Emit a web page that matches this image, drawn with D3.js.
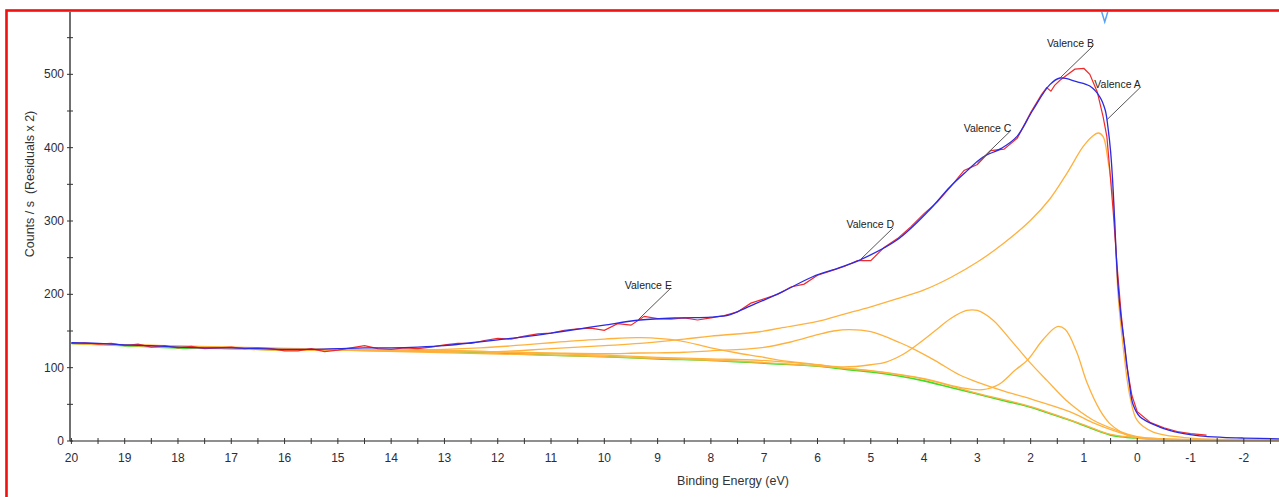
<!DOCTYPE html>
<html><head><meta charset="utf-8">
<script src="https://cdn.jsdelivr.net/npm/d3@7"></script>
<style>
body{margin:0;background:#fff;}
svg{display:block;}
text{font-family:"Liberation Sans",Arial,Helvetica,sans-serif;}
</style>
</head><body>
<svg id="chart" width="1279" height="497"></svg>
<script>
// ---------- tick labels ----------
const xTicks = [20,19,18,17,16,15,14,13,12,11,10,9,8,7,6,5,4,3,2,1,0,-1,-2];
const xMinorTicks = [19.5,18.5,17.5,16.5,15.5,14.5,13.5,12.5,11.5,10.5,9.5,8.5,7.5,6.5,5.5,4.5,3.5,2.5,1.5,0.5,-0.5,-1.5,-2.5];
const yTicks = [0,100,200,300,400,500];
const yMinorTicks = [50,150,250,350,450,550];

// ---------- data: [binding energy eV, counts/s] ----------
const rawData = [
[20,133],[19.75,134],[19.5,132],[19.25,133],[19,130],[18.75,132],[18.5,128],[18.25,130],[18,127],[17.75,129],
[17.5,126],[17.25,127],[17,128],[16.75,126],[16.5,127],[16.25,126],[16,123],[15.75,123],[15.5,126],[15.25,122],
[15,124],[14.75,127],[14.5,130],[14.25,126],[14,125],[13.75,127],[13.5,126],[13.25,128],[13,131],[12.75,133],
[12.5,133],[12.25,137],[12,140],[11.75,139],[11.5,143],[11.25,146],[11,147],[10.75,151],[10.5,153],[10.25,154],
[10,151],[9.75,160],[9.5,158],[9.25,170],[9,167],[8.75,166],[8.5,168],[8.25,165],[8,168],[7.75,171],
[7.5,176],[7.25,188],[7,194],[6.75,200],[6.5,210],[6.25,214],[6,226],[5.75,232],[5.5,238],[5.25,246],
[5,246],[4.75,264],[4.5,276],[4.25,292],[4,310],[3.75,326],[3.5,347],[3.25,369],[3,377],[2.75,396],
[2.5,398],[2.25,413],[2,448],[1.8,472],[1.7,482],[1.62,477],[1.55,485],[1.45,492],[1.3,500],[1.17,507],
[1.0,508],[0.89,500],[0.75,476],[0.64,442],[0.57,415],[0.52,374],[0.45,312],[0.38,240],[0.3,172],[0.2,104],
[0.1,62],[0,40],[-0.25,25],[-0.5,18],[-0.75,13],[-1.0,10],[-1.3,8]
];
const envelopeData = [
[20,134],[19.5,133],[19,131],[18.5,130],[18,128],[17.5,127],[17,127],[16.5,126],[16,125],[15.5,125],
[15,126],[14.5,127],[14,127],[13.5,128],[13,130],[12.5,134],[12,138],[11.5,142],[11,147],[10.46,153],
[10,158],[9.33,165],[8.58,168],[8,169],[7.65,172],[7.33,182],[6.7,202],[6.09,224],[5.6,236],[5.2,247],
[4.51,274],[3.9,315],[3.52,346],[3.2,368],[2.9,387],[2.55,399],[2.26,415],[1.96,451],[1.64,486],[1.45,495],
[1.14,490],[0.89,484],[0.7,469],[0.6,451],[0.55,428],[0.5,395],[0.45,340],[0.4,262],[0.36,212],[0.3,166],
[0.24,132],[0.14,74],[0.08,50],[-0.05,33],[-0.42,19],[-0.8,11],[-1.17,7],[-1.6,5],[-2,4],[-2.66,3]
];
const backgroundData = [
[20,133],[19,130],[18,127],[17,126],[16,124],[15,124],[14,123],[13,122],[12,120],[11,117],
[10,115],[9,112],[8,110],[7,106],[6,102],[5.5,98],[5,94],[4.5,89],[4,82],[3.5,73],
[3,64],[2.5,55],[2,46],[1.5,34],[1.25,28],[1,21],[0.5,8],[0.2,5],[0,4],[-0.5,2],
[-1,1.5],[-2,1],[-2.66,1]
];
const componentA = [
[20,133],[16,124],[14,124],[13,124],[12,122],[11,126],[10,130],[9.33,133],[8.5,139],[8,143],
[7.08,149],[6.7,154],[6,163],[5.5,173],[5,183],[4.5,194],[4,206],[3.5,223],[3,244],[2.5,270],
[2,301],[1.64,330],[1.32,365],[1.02,401],[0.85,415],[0.73,420],[0.64,415],[0.55,383],[0.45,329],[0.36,200],
[0.26,126],[0.14,62],[0,28],[-0.3,12],[-1,4],[-2,2],[-2.66,1.5]
];
const componentB = [
[20,133],[15,124],[10,115],[7,107],[5,96],[4,85],[3.33,73],[2.9,70],[2.6,77],[2.3,96],[2.05,111],
[1.77,138],[1.5,156],[1.35,152],[1.14,122],[0.94,79],[0.7,42],[0.52,24],[0.3,12],[0.08,5],[-0.5,2],
[-2.66,1]
];
const componentC = [
[20,133],[15,125],[12,121],[10,117],[9,114],[8,112],[7.08,110],[6,104],[5.5,101],[5,104],
[4.7,108],[4.4,118],[4.1,133],[3.8,150],[3.5,167],[3.2,178],[3.0,178],[2.71,165],[2.4,140],[2.05,110],
[1.7,83],[1.28,52],[0.84,29],[0.4,15],[0,6],[-0.5,3],[-2.66,1]
];
const componentD = [
[20,133],[15,124],[13,123],[11,120],[10,119],[9.33,120],[8.5,121],[8,123],[7.08,127],[6.5,135],
[6,145],[5.7,150],[5.4,152],[5.0,149],[4.45,134],[4.24,127],[3.8,110],[3.33,90],[2.95,79],[2.5,68],
[2.07,59],[1.27,40],[0.8,24],[0.4,13],[0,5],[-0.5,2],[-2.66,1]
];
const componentE = [
[20,133],[16,124],[14,124],[13,125],[12.33,127],[11.5,131],[11,134],[10.5,137],[10,139],[9.33,141],
[8.6,137],[8,127],[7.5,120],[7.08,115],[6.7,110],[6,104],[5.5,99],[5,95.5],[4,84.5],[3,65],
[2,47],[1,22],[0.5,9],[0,4.5],[-1,1.7],[-2.66,1]
];
const components = [componentA, componentB, componentC, componentD, componentE];

// peak labels with the envelope point they point at
const peakLabels = ["Valence A","Valence B","Valence C","Valence D","Valence E"];
const peakAnchorE = [0.57, 1.45, 3.0, 5.2, 9.37];
const peakAnchorV = [438, 495, 379, 247, 165];
const markerE = 0.61;

// ---------- layout ----------
const svg = d3.select("#chart");
const x = d3.scaleLinear().domain([20, -2.66]).range([71.4, 1279]);
const y = d3.scaleLinear().domain([0, 585]).range([441, 12]);
const axisX0 = 70;

// frame
svg.append("rect").attr("x",6.5).attr("y",10.5).attr("width",1400).attr("height",700)
  .attr("fill","#fff").attr("stroke","#f01010").attr("stroke-width",2.6);

const line = d3.line().x(d=>x(d[0])).y(d=>y(d[1]));
const smooth = d3.line().x(d=>x(d[0])).y(d=>y(d[1])).curve(d3.curveCatmullRom.alpha(0.5));

const plot = svg.append("g");
plot.append("path").datum(backgroundData).attr("d", smooth)
  .attr("fill","none").attr("stroke","#3fdc2a").attr("stroke-width",1.6);
plot.selectAll("path.comp").data(components).join("path").attr("class","comp")
  .attr("d", smooth).attr("fill","none").attr("stroke","#ffb13d").attr("stroke-width",1.3);
plot.append("path").datum(rawData).attr("d", line)
  .attr("fill","none").attr("stroke","#f02a2a").attr("stroke-width",1.2);
plot.append("path").datum(envelopeData).attr("d", smooth)
  .attr("fill","none").attr("stroke","#2a2ae6").attr("stroke-width",1.3);

// labels + leaders
const lab = svg.append("g").selectAll("g").data(peakLabels).join("g");
lab.append("line")
  .attr("x1",(d,i)=>x(peakAnchorE[i])).attr("y1",(d,i)=>y(peakAnchorV[i]))
  .attr("x2",(d,i)=>x(peakAnchorE[i])+33).attr("y2",(d,i)=>y(peakAnchorV[i])-32)
  .attr("stroke","#555").attr("stroke-width",1);
lab.append("text")
  .attr("x",(d,i)=>x(peakAnchorE[i])+34).attr("y",(d,i)=>y(peakAnchorV[i])-31.5)
  .attr("text-anchor","end").attr("font-size",10.5).attr("fill","#222").text(d=>d);

// marker
svg.append("path")
  .attr("d", `M${x(markerE)-3},12 L${x(markerE)},22 L${x(markerE)+3},12`)
  .attr("fill","none").attr("stroke","#5aa2f5").attr("stroke-width",1.5);

// axes
const ax = svg.append("g");
ax.append("line").attr("x1",axisX0).attr("x2",1279).attr("y1",441).attr("y2",441)
  .attr("stroke","#6a6a6a").attr("stroke-width",1.6);
ax.append("line").attr("x1",axisX0).attr("x2",axisX0).attr("y1",12).attr("y2",441)
  .attr("stroke","#333").attr("stroke-width",1.4);

ax.selectAll("line.xt").data(xTicks.concat(xMinorTicks)).join("line").attr("class","xt")
  .attr("x1",d=>x(d)).attr("x2",d=>x(d)).attr("y1",438).attr("y2",444)
  .attr("stroke","#333").attr("stroke-width",1);
ax.selectAll("text.xl").data(xTicks).join("text").attr("class","xl")
  .attr("x",d=>x(d)).attr("y",462).attr("text-anchor","middle")
  .attr("font-size",12).attr("fill","#2c2c3a").text(d=>String(d));

ax.selectAll("line.yt").data(yTicks.concat(yMinorTicks)).join("line").attr("class","yt")
  .attr("x1",axisX0-3).attr("x2",axisX0+3).attr("y1",d=>y(d)).attr("y2",d=>y(d))
  .attr("stroke","#333").attr("stroke-width",1);
ax.selectAll("text.yl").data(yTicks).join("text").attr("class","yl")
  .attr("x",axisX0-6).attr("y",d=>y(d)+4).attr("text-anchor","end")
  .attr("font-size",12).attr("fill","#2c2c3a").text(d=>String(d));

svg.append("text").attr("x",733).attr("y",485).attr("text-anchor","middle")
  .attr("font-size",12.5).attr("fill","#333").text("Binding Energy (eV)");
svg.append("text").attr("transform","translate(34,184) rotate(-90)").attr("text-anchor","middle")
  .attr("font-size",12.5).attr("fill","#333").attr("xml:space","preserve")
  .style("white-space","pre").text("Counts / s  (Residuals x 2)");
</script>
</body></html>
